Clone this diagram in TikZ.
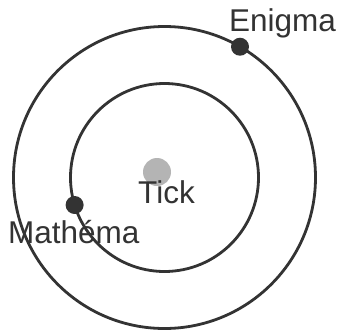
\documentclass[tikz,border=0pt]{standalone}
\usepackage{fontspec}
\setmainfont{Liberation Sans}
\usetikzlibrary{positioning,calc}
\definecolor{inkGray}{HTML}{333333}
\definecolor{sunGray}{HTML}{B4B4B4}
\begin{document}
\begin{tikzpicture}
[x=1pt,y=-1pt,
orbit/.style={line width=2.8pt,draw=inkGray},
planet/.style={circle,minimum size=18pt,inner sep=0pt,fill=inkGray},
sun/.style={circle,minimum size=28pt,inner sep=0pt,fill=sunGray},
nameLabel/.style={anchor=base west,inner sep=0pt,text=inkGray,font=\fontsize{31.5}{36}\selectfont}]
\useasboundingbox (0,0) rectangle (341,330);
\coordinate (c) at (164.5,177.5);
\draw[orbit] (c) circle[radius=151];
\draw[orbit] (c) circle[radius=94];
\node[sun] (tick) at (157,172) {};
\node[planet] (enigma) at ($(c)+(-60:151)$) {};
\node[planet] (mathema) at ($(c)+(-197:94)$) {};
\node[nameLabel] (tickLabel) at (138,203) {Tick};
\node[nameLabel] (enigmaLabel) at (229,31) {Enigma};
\node[nameLabel] (mathemaLabel) at (8,243) {Mathéma};
\end{tikzpicture}
\end{document}
